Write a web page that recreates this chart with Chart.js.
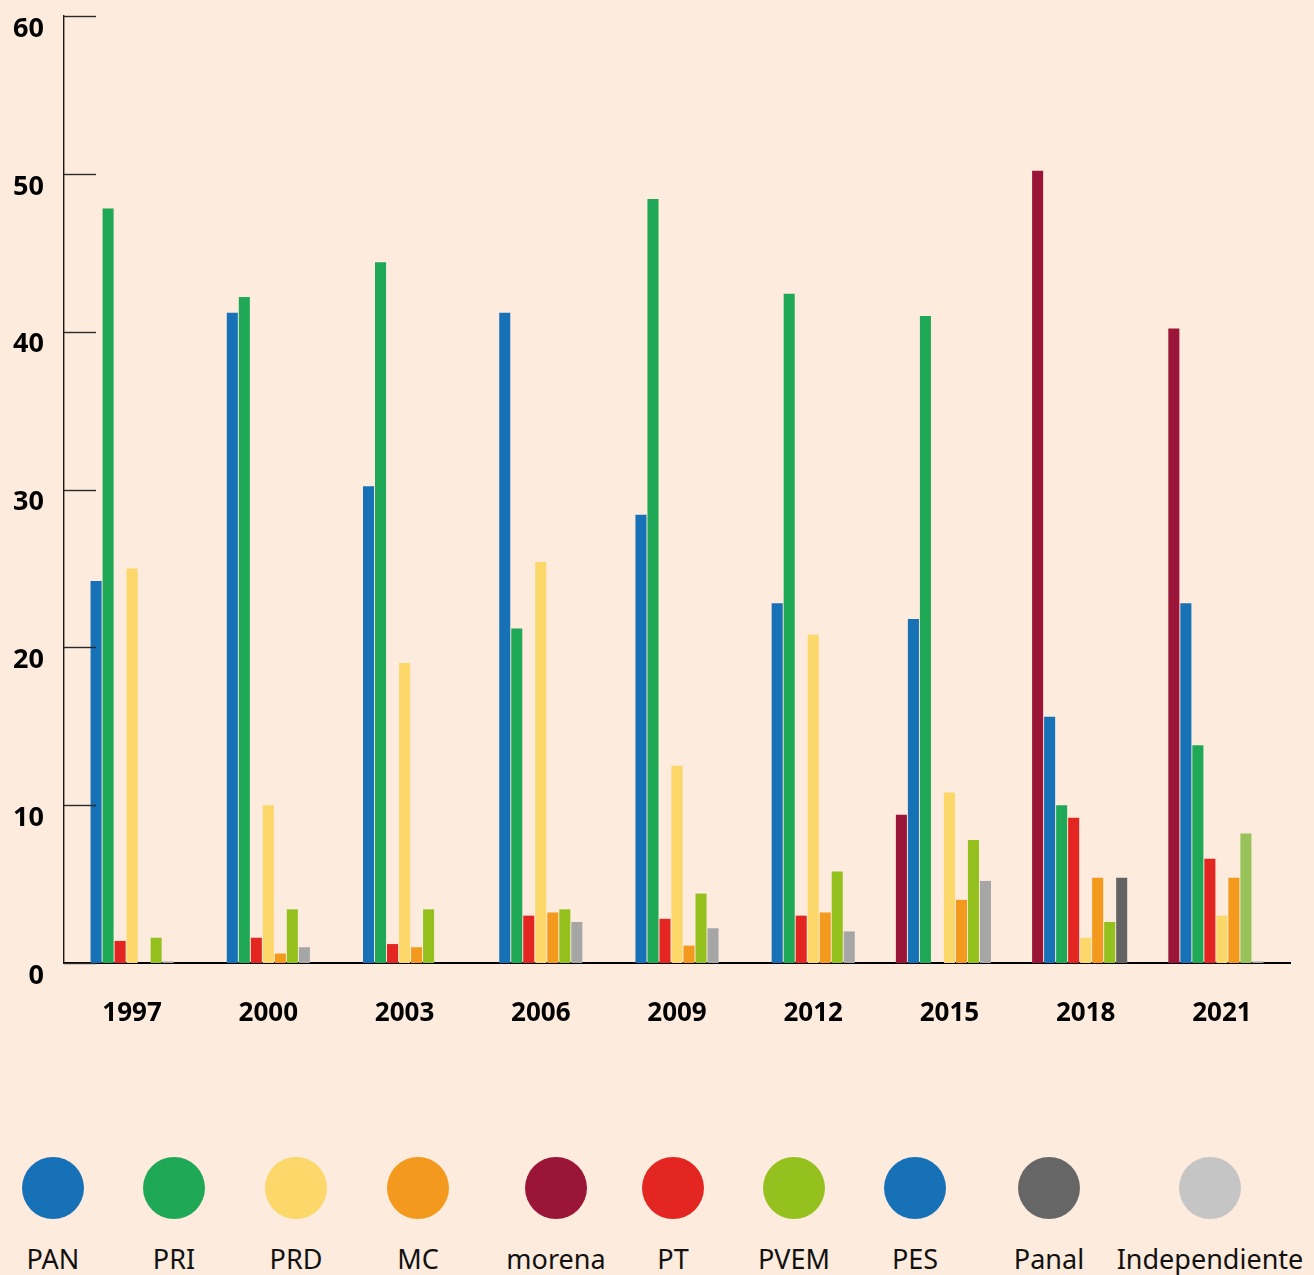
<!DOCTYPE html>
<html>
<head>
<meta charset="utf-8">
<script src="https://cdn.jsdelivr.net/npm/chart.js@4.4.1/dist/chart.umd.min.js"></script>
<style>
    html, body { margin: 0; padding: 0; }
    body {
        width: 1314px;
        height: 1275px;
        overflow: hidden;
        position: relative;
        background: #FDEBDD;
        font-family: "Noto Sans", sans-serif;
    }
    #chartBox { position: absolute; left: 0; top: 0; width: 1314px; height: 1080px; }
    .legend-item { position: absolute; width: 220px; text-align: center; }
    .legend-dot { width: 62px; height: 62px; border-radius: 50%; position: absolute; left: 79px; top: 0; }
    .legend-label { position: absolute; left: 0; width: 220px; top: 88px; font-size: 27px; line-height: 27px; color: #111; white-space: nowrap; }
</style>
</head>
<body>
<div id="chartBox"><canvas id="votesChart"></canvas></div>
<div id="legend"></div>

<script>
// Years (categories)
const years = ['1997', '2000', '2003', '2006', '2009', '2012', '2015', '2018', '2021'];

// Vote share per slot, % (null = no bar)
const morena = [null, null, null, null, null, null, 9.4, 50.2, 40.2];
const pan    = [24.2, 41.2, 30.2, 41.2, 28.4, 22.8, 21.8, 15.6, 22.8];
const pri    = [47.8, 42.2, 44.4, 21.2, 48.4, 42.4, 41.0, 10.0, 13.8];
const pt     = [1.4, 1.6, 1.2, 3.0, 2.8, 3.0, null, 9.2, 6.6];
const prd    = [25.0, 10.0, 19.0, 25.4, 12.5, 20.8, 10.8, 1.6, 3.0];
const mc     = [null, 0.6, 1.0, 3.2, 1.1, 3.2, 4.0, 5.4, 5.4];
const pvem   = [1.6, 3.4, 3.4, 3.4, 4.4, 5.8, 7.8, 2.6, 8.2];
const otros  = [0.1, 1.0, null, 2.6, 2.2, 2.0, 5.2, 5.4, 0.1];
const pes    = [null, null, null, null, null, null, null, null, null];

// Y axis ticks
const yTicks = [0, 10, 20, 30, 40, 50, 60];

// Legend entries
const legendNames = ['PAN', 'PRI', 'PRD', 'MC', 'morena', 'PT', 'PVEM', 'PES', 'Panal', 'Independiente'];

// Colours
const C = {
    PAN: '#1771B7', PRI: '#1FA855', PRD: '#FCD76A', MC: '#F39A1E', morena: '#9A1538',
    PT: '#E42622', PVEM: '#95C11F', PES: '#1771B7', Panal: '#666666', Independiente: '#C5C5C5'
};
const otrosColors = years.map(y => y === '2018' ? '#636363' : '#A6A6A6');
const pvemColors = years.map(y => y === '2021' ? '#97C35A' : C.PVEM);

// legend layout (centre x of each item)
const legendX = [53, 174, 296, 418, 556, 673, 794, 915, 1049, 1210];

const legendBox = document.getElementById('legend');
legendNames.forEach((name, i) => {
    const item = document.createElement('div');
    item.className = 'legend-item';
    item.style.left = (legendX[i] - 110) + 'px';
    item.style.top = '1157px';
    item.innerHTML = `<div class="legend-dot" style="background:${C[name]}"></div><div class="legend-label">${name}</div>`;
    legendBox.appendChild(item);
});

// short tick marks drawn inward from the y axis
const innerTicks = {
    id: 'innerTicks',
    afterDraw(chart) {
        const ctx = chart.ctx;
        const y = chart.scales.y;
        const left = chart.chartArea.left;
        ctx.save();
        ctx.strokeStyle = '#2a2a2a';
        ctx.lineWidth = 1.4;
        yTicks.forEach(v => {
            const py = Math.round(y.getPixelForValue(v)) + 0.5;
            ctx.beginPath();
            ctx.moveTo(left, py);
            ctx.lineTo(left + 32, py);
            ctx.stroke();
        });
        ctx.restore();
    }
};

function ds(label, data, color) {
    return {
        label: label,
        data: data,
        backgroundColor: color,
        borderWidth: 0,
        barPercentage: 0.92,
        categoryPercentage: 0.7935
    };
}

const ctx = document.getElementById('votesChart').getContext('2d');
new Chart(ctx, {
    type: 'bar',
    data: {
        labels: years,
        datasets: [
            ds('morena', morena, C.morena),
            ds('PAN', pan, C.PAN),
            ds('PRI', pri, C.PRI),
            ds('PT', pt, C.PT),
            ds('PRD', prd, C.PRD),
            ds('MC', mc, C.MC),
            ds('PVEM', pvem, pvemColors),
            ds('Otros', otros, otrosColors),
            ds('PES', pes, C.PES)
        ]
    },
    options: {
        responsive: true,
        maintainAspectRatio: false,
        animation: false,
        layout: { padding: { top: 16, right: 24, left: 0, bottom: 0 } },
        plugins: { legend: { display: false }, tooltip: { enabled: true } },
        scales: {
            x: {
                grid: { display: false, drawTicks: false },
                border: { display: true, color: '#000', width: 2 },
                ticks: {
                    color: '#000',
                    padding: 35,
                    maxRotation: 0,
                    font: { family: 'Noto Sans', size: 26, weight: 'bold' }
                },
                afterFit: s => { s.height = 117; s.paddingLeft = 0; s.paddingRight = 0; }
            },
            y: {
                min: 0,
                max: 60,
                grid: { display: false, drawTicks: false },
                border: { display: true, color: '#1a1a1a', width: 1.4 },
                ticks: {
                    stepSize: 10,
                    color: '#000',
                    padding: 20,
                    labelOffset: 13,
                    font: { family: 'Noto Sans', size: 27, weight: 'bold' }
                },
                afterFit: s => { s.width = 64; s.paddingTop = 0; s.paddingBottom = 0; }
            }
        }
    },
    plugins: [innerTicks]
});
</script>
</body>
</html>
